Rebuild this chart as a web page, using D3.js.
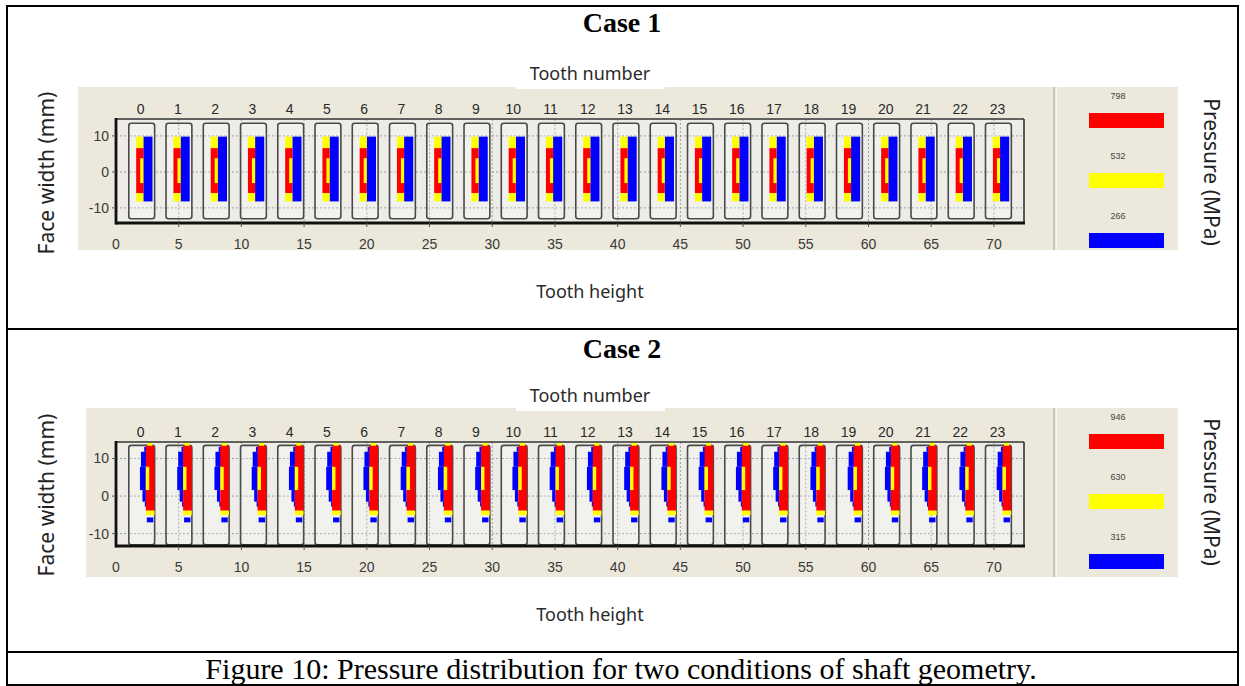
<!DOCTYPE html>
<html lang="en">
<head>
<meta charset="UTF-8">
<title>Figure 10</title>
<script src="https://d3js.org/d3.v7.min.js"></script>
<style>
    body { margin: 0; background: #fff; }
    svg { display: block; }
</style>
</head>
<body>
<svg id="fig" width="1245" height="686"></svg>
<script>
// tooth numbers and their centre along tooth height axis
var toothNumbers = [0, 1, 2, 3, 4, 5, 6, 7, 8, 9, 10, 11, 12, 13, 14, 15, 16, 17, 18, 19, 20, 21, 22, 23];
var toothCentres = [2.05, 5.02, 7.99, 10.96, 13.93, 16.90, 19.87, 22.84, 25.81, 28.78, 31.75, 34.72,
                    37.69, 40.66, 43.63, 46.60, 49.57, 52.54, 55.51, 58.48, 61.45, 64.42, 67.39, 70.36];
var heightTicks = [0, 5, 10, 15, 20, 25, 30, 35, 40, 45, 50, 55, 60, 65, 70];
var widthTicks = [-10, 0, 10];
var toothHalfHeight = 1.03;
var toothFace = [-13.0, 13.5];

// pressure bands: 0 = low (blue), 1 = mid (yellow), 2 = high (red)
var levelColours = ["#0000ff", "#ffff00", "#ff0000"];
var case1Levels = [266, 532, 798];
var case2Levels = [315, 630, 946];

// contact patch of one tooth, offsets from tooth centre (h: tooth height, w: face width mm)
var case1Contact = [
    {lvl: 0, h0: 0.13, h1: 0.86, w0: -8.2, w1: 9.8},
    {lvl: 1, h0: -0.44, h1: 0.13, w0: 6.6, w1: 9.8},
    {lvl: 2, h0: -0.44, h1: 0.13, w0: -5.9, w1: 6.6},
    {lvl: 1, h0: -0.12, h1: 0.13, w0: -3.1, w1: 3.8},
    {lvl: 1, h0: -0.44, h1: 0.13, w0: -8.2, w1: -5.9}
];
var case2Contact = [
    {lvl: 0, h0: 0.20, h1: 0.38, w0: 11.8, w1: 13.1},
    {lvl: 0, h0: -0.06, h1: 0.38, w0: 7.8, w1: 11.8},
    {lvl: 0, h0: -0.14, h1: 0.33, w0: 1.6, w1: 7.8},
    {lvl: 0, h0: 0.06, h1: 0.33, w0: -1.5, w1: 1.6},
    {lvl: 0, h0: 0.25, h1: 0.38, w0: -2.8, w1: -1.5},
    {lvl: 2, h0: 0.33, h1: 1.02, w0: -3.9, w1: 13.4},
    {lvl: 1, h0: 0.45, h1: 0.85, w0: 13.4, w1: 14.2},
    {lvl: 1, h0: 0.33, h1: 0.60, w0: 1.6, w1: 7.8},
    {lvl: 1, h0: 0.33, h1: 1.02, w0: -5.1, w1: -3.9},
    {lvl: 0, h0: 0.41, h1: 0.92, w0: -7.0, w1: -5.7}
];

var cases = [
    {title: "Case 1", titleY: 22, levels: case1Levels, contact: case1Contact,
     panel: {left: 78, top: 87, right: 1178, bottom: 250}, sep: 1054,
     box: {top: 119, bottom: 223}, yDomain: [-14.2, 14.7],
     numberY: 74, heightY: 292, faceY: 173, pressY: 172},
    {title: "Case 2", titleY: 348, levels: case2Levels, contact: case2Contact,
     panel: {left: 86, top: 408, right: 1178, bottom: 577}, sep: 1054,
     box: {top: 442, bottom: 546}, yDomain: [-13.3, 14.4],
     numberY: 396, heightY: 615, faceY: 495, pressY: 492}
];

var svg = d3.select("#fig");
var uiFont = "'Noto Sans', 'Open Sans', sans-serif";
var tickFont = "'Liberation Sans', Arial, sans-serif";
var serif = "'Liberation Serif', 'Times New Roman', serif";

// table frame
svg.append("rect").attr("x", 7).attr("y", 6).attr("width", 1231).attr("height", 679)
    .attr("fill", "none").attr("stroke", "#000").attr("stroke-width", 2);
[329, 652].forEach(function (y) {
    svg.append("line").attr("x1", 7).attr("x2", 1238).attr("y1", y).attr("y2", y)
        .attr("stroke", "#000").attr("stroke-width", 2);
});

cases.forEach(drawCase);

svg.append("text").attr("x", 621).attr("y", 668).attr("dy", "0.35em")
    .attr("text-anchor", "middle")
    .style("font-family", serif).style("font-size", "30px")
    .text("Figure 10: Pressure distribution for two conditions of shaft geometry.");

function drawCase(c) {
    var g = svg.append("g");
    var x = d3.scaleLinear().domain([0, 72.4]).range([116, 1024]);
    var y = d3.scaleLinear().domain(c.yDomain).range([c.box.bottom, c.box.top]);
    var p = c.panel;

    g.append("text").attr("x", 622).attr("y", c.titleY).attr("dy", "0.35em")
        .attr("text-anchor", "middle")
        .style("font-family", serif)
        .style("font-size", "28px").style("font-weight", "bold")
        .text(c.title);

    // beige panel + separator before legend
    g.append("rect").attr("x", p.left).attr("y", p.top)
        .attr("width", p.right - p.left).attr("height", p.bottom - p.top)
        .attr("fill", "#ece9dc");
    g.append("line").attr("x1", c.sep).attr("x2", c.sep).attr("y1", p.top).attr("y2", p.bottom)
        .attr("stroke", "#bcb8a8").attr("stroke-width", 1.5);
    g.append("line").attr("x1", c.sep + 2.5).attr("x2", c.sep + 2.5).attr("y1", p.top).attr("y2", p.bottom)
        .attr("stroke", "#f8f7f2").attr("stroke-width", 1);

    // plot box background
    g.append("rect").attr("x", x(0)).attr("y", c.box.top)
        .attr("width", x.range()[1] - x(0)).attr("height", c.box.bottom - c.box.top)
        .attr("fill", "#eeece6");

    // dashed grid
    g.selectAll(".vgrid").data(heightTicks.slice(1)).enter().append("line")
        .attr("x1", function (d) { return x(d); }).attr("x2", function (d) { return x(d); })
        .attr("y1", c.box.top).attr("y2", c.box.bottom)
        .attr("stroke", "#8a8a8a").attr("stroke-width", 0.8).attr("stroke-dasharray", "2,2");
    g.selectAll(".hgrid").data(widthTicks).enter().append("line")
        .attr("x1", x(0)).attr("x2", x.range()[1])
        .attr("y1", function (d) { return y(d); }).attr("y2", function (d) { return y(d); })
        .attr("stroke", "#8a8a8a").attr("stroke-width", 0.8).attr("stroke-dasharray", "2,2");

    // teeth
    var teeth = g.selectAll(".tooth").data(toothCentres).enter().append("g").attr("class", "tooth");
    teeth.append("rect")
        .attr("x", function (d) { return x(d - toothHalfHeight); })
        .attr("y", y(toothFace[1]))
        .attr("width", function (d) { return x(d + toothHalfHeight) - x(d - toothHalfHeight); })
        .attr("height", y(toothFace[0]) - y(toothFace[1]))
        .attr("rx", 2.5)
        .attr("fill", "#f1f1ee").attr("stroke", "#4a4a4a").attr("stroke-width", 1.6);
    // grid lines show through the tooth fill
    teeth.each(function (d) {
        var t = d3.select(this);
        widthTicks.forEach(function (w) {
            t.append("line")
                .attr("x1", x(d - toothHalfHeight) + 1).attr("x2", x(d + toothHalfHeight) - 1)
                .attr("y1", y(w)).attr("y2", y(w))
                .attr("stroke", "#9a9a9a").attr("stroke-width", 0.8).attr("stroke-dasharray", "2,2");
        });
        heightTicks.forEach(function (h) {
            if (h > d - toothHalfHeight && h < d + toothHalfHeight) {
                t.append("line").attr("x1", x(h)).attr("x2", x(h))
                    .attr("y1", y(toothFace[1]) + 1).attr("y2", y(toothFace[0]) - 1)
                    .attr("stroke", "#9a9a9a").attr("stroke-width", 0.8).attr("stroke-dasharray", "2,2");
            }
        });
    });
    teeth.selectAll(".patch").data(function (d) {
        return c.contact.map(function (r) { return {centre: d, r: r}; });
    }).enter().append("rect")
        .attr("x", function (d) { return x(d.centre + d.r.h0); })
        .attr("y", function (d) { return y(d.r.w1); })
        .attr("width", function (d) { return x(d.centre + d.r.h1) - x(d.centre + d.r.h0); })
        .attr("height", function (d) { return y(d.r.w0) - y(d.r.w1); })
        .attr("fill", function (d) { return levelColours[d.r.lvl]; });

    // axes box: thick left/bottom, thinner top/right
    var bx0 = x(0), bx1 = x.range()[1];
    g.append("line").attr("x1", bx0).attr("x2", bx1).attr("y1", c.box.top).attr("y2", c.box.top)
        .attr("stroke", "#333").attr("stroke-width", 1.6);
    g.append("line").attr("x1", bx1).attr("x2", bx1).attr("y1", c.box.top).attr("y2", c.box.bottom)
        .attr("stroke", "#333").attr("stroke-width", 1.6);
    g.append("line").attr("x1", bx0).attr("x2", bx0).attr("y1", c.box.top - 1).attr("y2", c.box.bottom + 1.5)
        .attr("stroke", "#111").attr("stroke-width", 2.8);
    g.append("line").attr("x1", bx0).attr("x2", bx1 + 1).attr("y1", c.box.bottom).attr("y2", c.box.bottom)
        .attr("stroke", "#111").attr("stroke-width", 2.8);

    // tick marks
    g.selectAll(".xt").data(heightTicks.slice(1)).enter().append("line")
        .attr("x1", function (d) { return x(d); }).attr("x2", function (d) { return x(d); })
        .attr("y1", c.box.bottom).attr("y2", c.box.bottom + 4)
        .attr("stroke", "#555").attr("stroke-width", 1);
    g.selectAll(".yt").data(widthTicks).enter().append("line")
        .attr("x1", bx0 - 4).attr("x2", bx0)
        .attr("y1", function (d) { return y(d); }).attr("y2", function (d) { return y(d); })
        .attr("stroke", "#555").attr("stroke-width", 1);

    // tick labels
    g.selectAll(".xl").data(heightTicks).enter().append("text")
        .attr("x", function (d) { return x(d); }).attr("y", c.box.bottom + 21).attr("dy", "0.35em")
        .attr("text-anchor", "middle").attr("fill", "#3a3a3a")
        .style("font-family", tickFont).style("font-size", "14px")
        .text(function (d) { return d; });
    g.selectAll(".yl").data(widthTicks).enter().append("text")
        .attr("x", bx0 - 7).attr("y", function (d) { return y(d); }).attr("dy", "0.35em")
        .attr("text-anchor", "end").attr("fill", "#3a3a3a")
        .style("font-family", tickFont).style("font-size", "14px")
        .text(function (d) { return d; });
    g.selectAll(".tn").data(toothNumbers).enter().append("text")
        .attr("x", function (d, i) { return x(toothCentres[i]) - 1; }).attr("y", c.box.top - 10).attr("dy", "0.35em")
        .attr("text-anchor", "middle").attr("fill", "#2a2a2a")
        .style("font-family", tickFont).style("font-size", "14px")
        .text(function (d) { return d; });

    // legend
    var order = [2, 1, 0];
    order.forEach(function (lvl, k) {
        var top = p.top + 26 + 60 * k;
        g.append("rect").attr("x", 1089).attr("y", top).attr("width", 75).attr("height", 15)
            .attr("fill", levelColours[lvl]);
        g.append("text").attr("x", 1118).attr("y", top - 17).attr("dy", "0.35em")
            .attr("text-anchor", "middle").attr("fill", "#444")
            .style("font-family", tickFont).style("font-size", "9px")
            .text(c.levels[lvl]);
    });

    // axis titles
    labelBox(g, 590, c.numberY, "Tooth number");
    labelBox(g, 590, c.heightY, "Tooth height");
    g.append("text").attr("transform", "translate(47," + c.faceY + ") rotate(-90)")
        .attr("text-anchor", "middle").attr("dy", "0.35em").attr("fill", "#222")
        .style("font-family", uiFont).style("font-size", "21px")
        .text("Face width (mm)");
    g.append("text").attr("transform", "translate(1211," + c.pressY + ") rotate(90)")
        .attr("text-anchor", "middle").attr("dy", "0.35em").attr("fill", "#222")
        .style("font-family", uiFont).style("font-size", "21px")
        .text("Pressure (MPa)");
}

function labelBox(g, cx, cy, txt) {
    var t = g.append("text").attr("x", cx).attr("y", cy).attr("dy", "0.35em")
        .attr("text-anchor", "middle").attr("fill", "#2a2a2a")
        .style("font-family", uiFont).style("font-size", "18px")
        .text(txt);
    var b = t.node().getBBox();
    g.insert("rect", function () { return t.node(); })
        .attr("x", b.x - 14).attr("y", cy - 15).attr("width", b.width + 28).attr("height", 30)
        .attr("fill", "#fff");
}
</script>
</body>
</html>
